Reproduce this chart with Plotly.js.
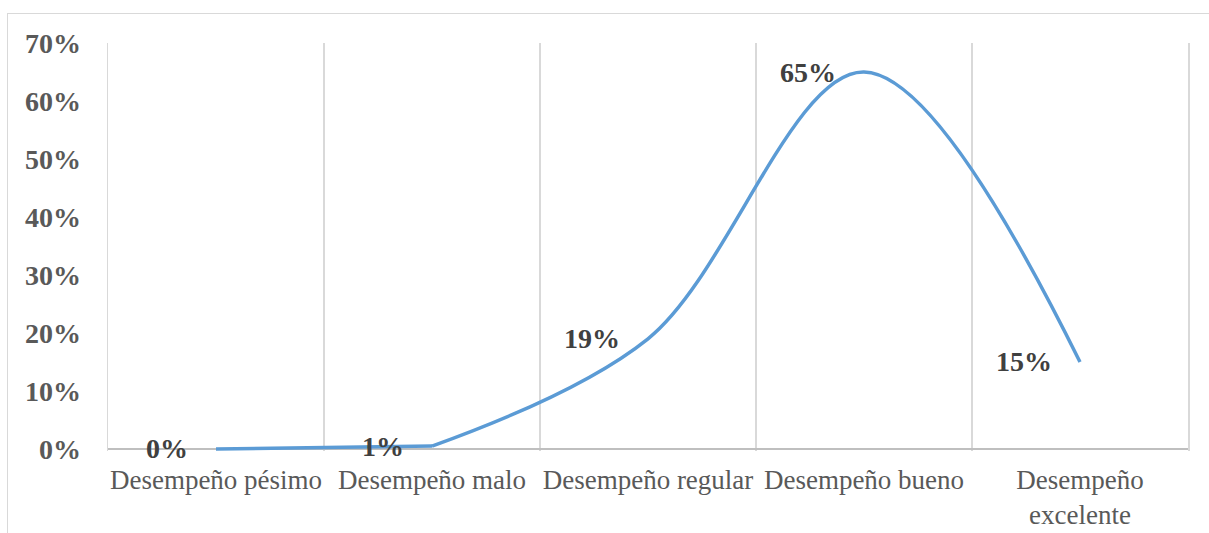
<!DOCTYPE html>
<html>
<head>
<meta charset="utf-8">
<script src="https://cdn.plot.ly/plotly-3.0.1.min.js"></script>
<style>
  html, body { margin: 0; padding: 0; background: #fff; }
  #wrap { position: relative; width: 1209px; height: 533px; overflow: hidden; }
  #frame { position: absolute; left: 7px; top: 13px; width: 1220px; height: 540px; border: 1px solid #d9d9d9; box-sizing: border-box; pointer-events: none; }
  #chart { position: absolute; left: 0; top: 0; width: 1209px; height: 533px; }
</style>
</head>
<body>
<div id="wrap">
  <div id="chart"></div>
  <div id="frame"></div>
</div>
<script>
const categories = ["Desempeño pésimo", "Desempeño malo", "Desempeño regular", "Desempeño bueno", "Desempeño<br>excelente"];
const values = [0.0, 0.005, 0.19, 0.65, 0.15];
const labels = ["0%", "1%", "19%", "65%", "15%"];
const yTicks = [0, 0.1, 0.2, 0.3, 0.4, 0.5, 0.6, 0.7];

const serif = "Liberation Serif, Times New Roman, serif";
const lineStyle = { color: "#5b9bd5", width: 3.5, shape: "spline", smoothing: 1 };

// flat start (pésimo -> malo) and smoothed remainder (malo -> excelente)
const traceStart = {
  x: categories.slice(0, 2),
  y: values.slice(0, 2),
  type: "scatter",
  mode: "lines",
  line: lineStyle,
  hoverinfo: "none"
};
const traceRest = {
  x: categories.slice(1),
  y: values.slice(1),
  type: "scatter",
  mode: "lines",
  line: lineStyle,
  hoverinfo: "none"
};

const annotations = categories.map((c, i) => ({
  x: c,
  y: values[i],
  xref: "x",
  yref: "y",
  text: "<b>" + labels[i] + "</b>",
  showarrow: false,
  xanchor: "right",
  yanchor: "middle",
  xshift: -26,
  yshift: 0,
  font: { family: serif, size: 28, color: "#404040" }
}));

const layout = {
  width: 1209,
  height: 533,
  margin: { l: 108, r: 21, t: 43, b: 82 },
  paper_bgcolor: "rgba(0,0,0,0)",
  plot_bgcolor: "rgba(0,0,0,0)",
  showlegend: false,
  annotations: annotations,
  xaxis: {
    type: "category",
    range: [-0.5, 4.5],
    tickson: "boundaries",
    showgrid: true,
    gridcolor: "#d9d9d9",
    gridwidth: 1.5,
    showline: false,
    layer: "below traces",
    ticks: "",
    tickangle: 0,
    ticklabelstandoff: 10,
    tickfont: { family: serif, size: 27, color: "#595959" },
    zeroline: false,
    fixedrange: true
  },
  yaxis: {
    range: [-0.0035, 0.7],
    tickvals: yTicks,
    tickformat: ".0%",
    showgrid: false,
    zeroline: true,
    zerolinecolor: "#bfbfbf",
    zerolinewidth: 1.5,
    showline: true,
    mirror: true,
    linecolor: "#d9d9d9",
    linewidth: 1.5,
    layer: "below traces",
    ticks: "",
    ticklabelstandoff: 20,
    tickfont: { family: serif, size: 28, color: "#595959", weight: "bold" },
    fixedrange: true
  }
};

Plotly.newPlot("chart", [traceStart, traceRest], layout, { displayModeBar: false, staticPlot: true });
</script>
</body>
</html>
